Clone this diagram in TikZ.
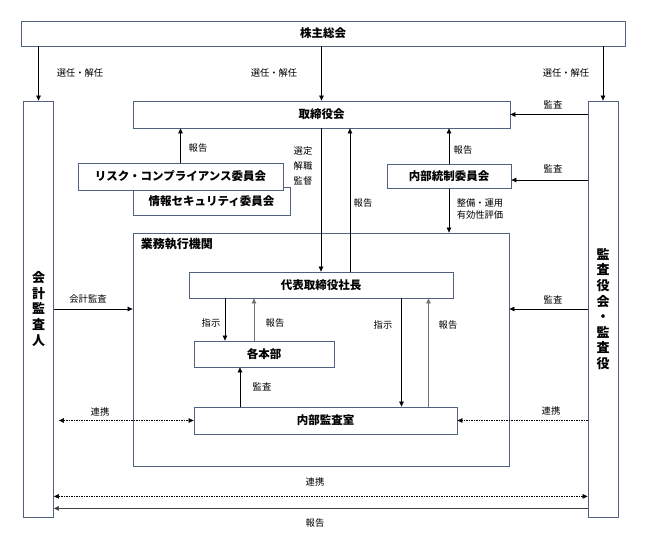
\documentclass[tikz,border=0pt]{standalone}
\usepackage{fontspec}
\setmainfont{Noto Sans CJK JP}
\usetikzlibrary{arrows.meta}
\definecolor{boxline}{HTML}{52617F}
\tikzset{
  box/.style = {draw=boxline, line width=0.8pt, fill=white, inner sep=0pt, align=center, font=\bfseries\fontsize{11.5}{13}\selectfont},
  colbox/.style = {box, font=\bfseries\fontsize{13}{15.6}\selectfont},
  lbl/.style = {inner sep=0pt, align=center, font=\fontsize{9.3}{15}\selectfont},
  arr/.style = {-{Triangle[length=5pt,width=4.5pt]}, line width=0.6pt},
  arrg/.style = {arr, draw=black!55, fill=black!55},
  link/.style = {{Triangle[length=5pt,width=4.5pt]}-{Triangle[length=5pt,width=4.5pt]}, line width=0.6pt, dash pattern=on 1.5pt off 1pt},
  linkone/.style = {-{Triangle[length=5pt,width=4.5pt]}, line width=0.6pt, dash pattern=on 1.5pt off 1pt}
}

\begin{document}
\begin{tikzpicture}[x=1pt,y=-1pt]
	\useasboundingbox (0,0) rectangle (645,556);
	% boxes
	\node [box, minimum width=604pt, minimum height=25pt] (soukai) at (323,33.5) {株主総会};
	\node [colbox, minimum width=30pt, minimum height=416pt] (kaikei) at (38.5,309) {会\\計\\監\\査\\人};
	\node [colbox, minimum width=30pt, minimum height=416pt] (kansayaku) at (603,309) {監\\査\\役\\会\\・\\監\\査\\役};
	\node [box, minimum width=377pt, minimum height=27pt] (torishimari) at (321.5,114.5) {取締役会};
	\node [box, minimum width=157pt, minimum height=28pt] (joho) at (211.5,201) {情報セキュリティ委員会};
	\node [box, minimum width=205pt, minimum height=27pt] (risk) at (180.5,176.5) {リスク・コンプライアンス委員会};
	\node [box, minimum width=124pt, minimum height=24pt] (tosei) at (449,176.5) {内部統制委員会};
	\node [box, minimum width=376pt, minimum height=233pt] (gyomu) at (321,349.5) {};
	\node [anchor=north west, inner sep=0pt, font=\bfseries\fontsize{12}{14}\selectfont] (gyomulbl) at ([xshift=8pt,yshift=-5pt]gyomu.north west) {業務執行機関};
	\node [box, minimum width=264pt, minimum height=26pt] (daihyo) at (321,285) {代表取締役社長};
	\node [box, minimum width=140pt, minimum height=26pt] (honbu) at (264,354) {各本部};
	\node [box, minimum width=263pt, minimum height=27pt] (kansa) at (325.5,420.5) {内部監査室};

	% helper points
	\coordinate (rpA) at ([xshift=29pt]daihyo.north);
	\coordinate (shA) at ([xshift=-39pt]honbu.north);
	\coordinate (rpB) at ([xshift=-10pt]honbu.north);
	\coordinate (shB) at ([xshift=76pt]kansa.north);
	\coordinate (rpC) at ([xshift=103pt]kansa.north);
	\coordinate (ksA) at ([xshift=-24pt]honbu.south);
	\coordinate (lkL) at (kaikei.east |- kansa.west);
	\coordinate (bL) at ([yshift=21pt]kaikei.south east);
	\coordinate (bR) at ([yshift=21pt]kansayaku.south west);
	\coordinate (rL) at ([yshift=9pt]kaikei.south east);
	\coordinate (rR) at ([yshift=9pt]kansayaku.south west);
	\coordinate (tsA) at ([yshift=-3.5pt]tosei.east);

	% connectors
	\draw [arr] (soukai.south -| kaikei) -- (kaikei.north);
	\draw [arr] (soukai.south -| torishimari) -- (torishimari.north);
	\draw [arr] (soukai.south -| kansayaku) -- (kansayaku.north);
	\draw [arr] (kansayaku.west |- torishimari.east) -- (torishimari.east);
	\draw [arr] (risk.north) -- (risk.north |- torishimari.south);
	\draw [arr] (torishimari.south -| daihyo) -- (daihyo.north);
	\draw [arr] (rpA) -- (rpA |- torishimari.south);
	\draw [arr] (tosei.north) -- (tosei.north |- torishimari.south);
	\draw [arr] (kansayaku.west |- tsA) -- (tsA);
	\draw [arr] (tosei.south) -- (tosei.south |- gyomu.north);
	\draw [arr] (kaikei.east) -- (kaikei.east -| gyomu.west);
	\draw [arr] (kansayaku.west) -- (kansayaku.west -| gyomu.east);
	\draw [arr] (shA |- daihyo.south) -- (shA);
	\draw [arrg] (rpB) -- (rpB |- daihyo.south);
	\draw [arr] (shB |- daihyo.south) -- (shB);
	\draw [arrg] (rpC) -- (rpC |- daihyo.south);
	\draw [arr] (ksA |- kansa.north) -- (ksA);
	\draw [link] ([xshift=5pt]lkL) -- (kansa.west);
	\draw [linkone] (kansayaku.west |- kansa.east) -- (kansa.east);
	\draw [link] (bL) -- (bR);
	\draw [arrg, draw=black!75, fill=black!75] (rR) -- (rL);

	% labels
	\node [lbl] (l1) at (80,73) {選任・解任};
	\node [lbl] (l2) at (274,73) {選任・解任};
	\node [lbl] (l3) at (566,73) {選任・解任};
	\node [lbl] (l4) at (553,105) {監査};
	\node [lbl] (l5) at (198,148) {報告};
	\node [lbl] (l6) at (303,166) {選定\\解職\\監督};
	\node [lbl] (l7) at (363,203) {報告};
	\node [lbl] (l8) at (463,150) {報告};
	\node [lbl] (l9) at (553,169) {監査};
	\node [lbl, font=\fontsize{9.3}{12}\selectfont] (l10) at (480,209) {整備・運用\\有効性評価};
	\node [lbl] (l11) at (88,299) {会計監査};
	\node [lbl] (l12) at (553,300) {監査};
	\node [lbl] (l13) at (211,323) {指示};
	\node [lbl] (l14) at (275,323) {報告};
	\node [lbl] (l15) at (383,325) {指示};
	\node [lbl] (l16) at (448,325) {報告};
	\node [lbl] (l17) at (262,387) {監査};
	\node [lbl] (l18) at (100,412) {連携};
	\node [lbl] (l19) at (551,411) {連携};
	\node [lbl] (l20) at (315,482) {連携};
	\node [lbl] (l21) at (315,523) {報告};
\end{tikzpicture}
\end{document}
